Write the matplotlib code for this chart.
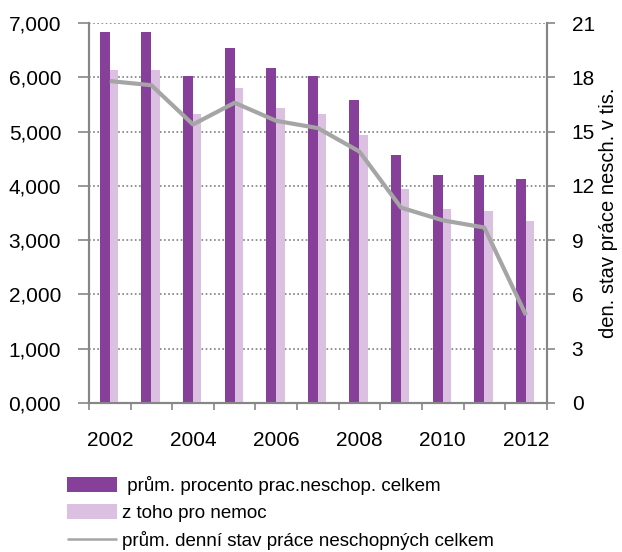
import matplotlib
matplotlib.use('Agg')
import matplotlib.pyplot as plt
import numpy as np
from matplotlib.ticker import FuncFormatter, FixedLocator

plt.rcParams['font.family'] = ['Liberation Sans', 'DejaVu Sans']

years = [2002, 2003, 2004, 2005, 2006, 2007, 2008, 2009, 2010, 2011, 2012]
celkem = [6.83, 6.83, 6.02, 6.54, 6.17, 6.02, 5.58, 4.57, 4.20, 4.20, 4.13]
nemoc = [6.13, 6.13, 5.32, 5.80, 5.43, 5.32, 4.94, 3.94, 3.57, 3.54, 3.35]
denni_stav = [17.8, 17.57, 15.4, 16.6, 15.6, 15.2, 13.9, 10.8, 10.1, 9.7, 4.86]

labels = [' prům. procento prac.neschop. celkem',
          'z toho pro nemoc',
          'prům. denní stav práce neschopných celkem']

c_dark = '#87409a'
c_light = '#dcc0e2'
c_line = '#a5a5a5'
c_axis = '#868686'

fig = plt.figure(figsize=(6.22, 5.52), dpi=100)
ax = fig.add_axes([0.143, 0.270, 0.736, 0.688])
ax2 = ax.twinx()

x = np.arange(len(years))
# dark bar left of the slot centre, light bar right of it
b1 = ax.bar(x - 0.12, celkem, width=0.24, color=c_dark, zorder=3)
b2 = ax.bar(x + 0.1, nemoc, width=0.2, color=c_light, zorder=3)

l1, = ax2.plot(x, denni_stav, color=c_line, lw=3, solid_capstyle='butt', zorder=4)

ax.set_xlim(-0.5, len(years) - 0.5)
ax.set_ylim(0, 7)
ax2.set_ylim(0, 21)
ax.set_yticks(np.arange(0, 8, 1))
ax2.set_yticks(np.arange(0, 22, 3))
ax.yaxis.set_major_formatter(FuncFormatter(lambda v, p: '{:.3f}'.format(v).replace('.', ',')))

ax.set_xticks(x[::2])
ax.set_xticklabels([str(y) for y in years[::2]])
ax.xaxis.set_minor_locator(FixedLocator(np.arange(-0.5, len(years), 1)))
ax.tick_params(axis='x', which='major', length=0, pad=20, labelsize=15)
ax.tick_params(axis='x', which='minor', length=5, width=1.2, color=c_axis)
ax.tick_params(axis='y', length=8, width=1.2, color=c_axis, pad=12, labelsize=15)
ax2.tick_params(axis='y', length=6, width=1.2, color=c_axis, pad=12, labelsize=15)

ax.grid(axis='y', linestyle=(0, (1, 1.5)), color='#7f7f7f', lw=1.2, zorder=0)
ax.set_axisbelow(True)

for a in (ax, ax2):
    a.spines['top'].set_visible(False)
    for s in ('left', 'right', 'bottom'):
        a.spines[s].set_color(c_axis)
        a.spines[s].set_linewidth(1.5)

ax2.set_ylabel('den. stav práce nesch. v tis.', fontsize=14.5, labelpad=3)

leg = fig.legend([b1, b2, l1], labels, loc='upper left', bbox_to_anchor=(0.095, 0.152),
                 frameon=False, fontsize=13.5, handlelength=2.7, handleheight=0.85,
                 labelspacing=0.5, handletextpad=0.25, borderaxespad=0)
leg.get_lines()[0].set_linewidth(1.8)

fig.savefig('out.png', dpi=100)
